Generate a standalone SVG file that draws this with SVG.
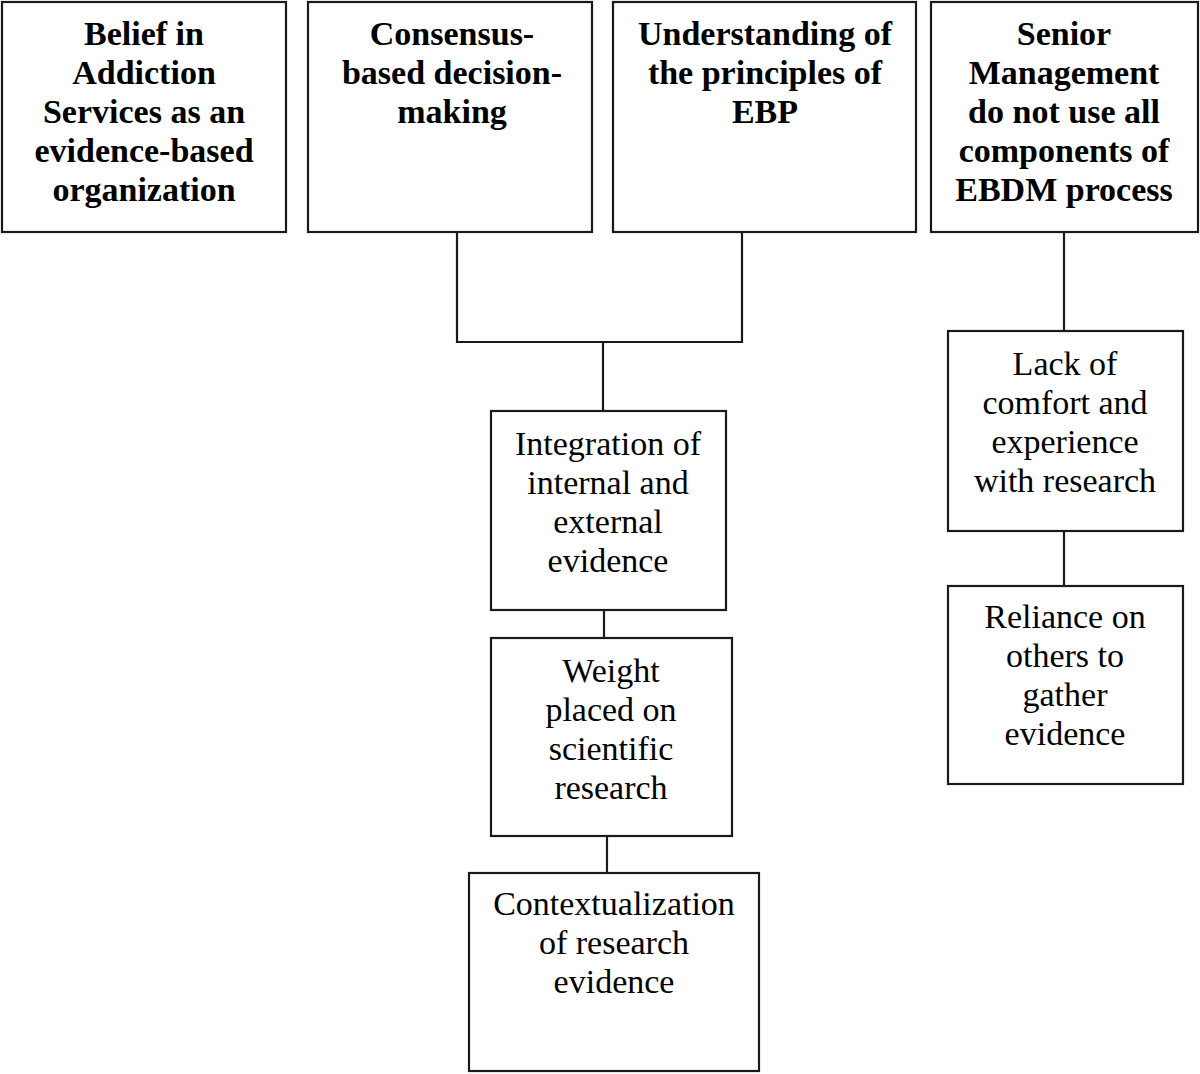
<svg xmlns="http://www.w3.org/2000/svg" width="1200" height="1074" viewBox="0 0 1200 1074">
<style>
.box{fill:#fff;stroke:#1a1a1a;stroke-width:2.2}
.b{font-family:"Liberation Serif","Times New Roman",serif;font-weight:bold;font-size:34px;fill:#000;text-anchor:middle}
.r{font-family:"Liberation Serif","Times New Roman",serif;font-size:34px;fill:#000;text-anchor:middle}
.c{fill:none;stroke:#1a1a1a;stroke-width:2.2}
</style>
<rect width="1200" height="1074" fill="#fff"/>
<g id="connectors">
<polyline class="c" points="457,232 457,342 742,342 742,232"/>
<line class="c" x1="603" y1="342" x2="603" y2="411"/>
<line class="c" x1="604" y1="610" x2="604" y2="638"/>
<line class="c" x1="607" y1="836" x2="607" y2="873"/>
<line class="c" x1="1064" y1="232" x2="1064" y2="331"/>
<line class="c" x1="1064" y1="531" x2="1064" y2="586"/>
</g>
<g id="belief">
<rect class="box" x="2" y="2" width="284" height="230"/>
<text class="b" x="144" y="45">Belief in</text>
<text class="b" x="144" y="84">Addiction</text>
<text class="b" x="144" y="123">Services as an</text>
<text class="b" x="144" y="162">evidence-based</text>
<text class="b" x="144" y="201">organization</text>
</g>
<g id="consensus">
<rect class="box" x="308" y="2" width="284" height="230"/>
<text class="b" x="452" y="45">Consensus-</text>
<text class="b" x="452" y="84">based decision-</text>
<text class="b" x="452" y="123">making</text>
</g>
<g id="understanding">
<rect class="box" x="613" y="2" width="303" height="230"/>
<text class="b" x="765" y="45">Understanding of</text>
<text class="b" x="765" y="84">the principles of</text>
<text class="b" x="765" y="123">EBP</text>
</g>
<g id="senior">
<rect class="box" x="931" y="2" width="267" height="230"/>
<text class="b" x="1064" y="45">Senior</text>
<text class="b" x="1064" y="84">Management</text>
<text class="b" x="1064" y="123">do not use all</text>
<text class="b" x="1064" y="162">components of</text>
<text class="b" x="1064" y="201">EBDM process</text>
</g>
<g id="integration">
<rect class="box" x="491" y="411" width="235" height="199"/>
<text class="r" x="608" y="455">Integration of</text>
<text class="r" x="608" y="494">internal and</text>
<text class="r" x="608" y="533">external</text>
<text class="r" x="608" y="572">evidence</text>
</g>
<g id="weight">
<rect class="box" x="491" y="638" width="241" height="198"/>
<text class="r" x="611" y="682">Weight</text>
<text class="r" x="611" y="721">placed on</text>
<text class="r" x="611" y="760">scientific</text>
<text class="r" x="611" y="799">research</text>
</g>
<g id="contextualization">
<rect class="box" x="469" y="873" width="290" height="198"/>
<text class="r" x="614" y="915">Contextualization</text>
<text class="r" x="614" y="954">of research</text>
<text class="r" x="614" y="993">evidence</text>
</g>
<g id="lack">
<rect class="box" x="948" y="331" width="235" height="200"/>
<text class="r" x="1065" y="375">Lack of</text>
<text class="r" x="1065" y="414">comfort and</text>
<text class="r" x="1065" y="453">experience</text>
<text class="r" x="1065" y="492">with research</text>
</g>
<g id="reliance">
<rect class="box" x="948" y="586" width="235" height="198"/>
<text class="r" x="1065" y="628">Reliance on</text>
<text class="r" x="1065" y="667">others to</text>
<text class="r" x="1065" y="706">gather</text>
<text class="r" x="1065" y="745">evidence</text>
</g>
</svg>
